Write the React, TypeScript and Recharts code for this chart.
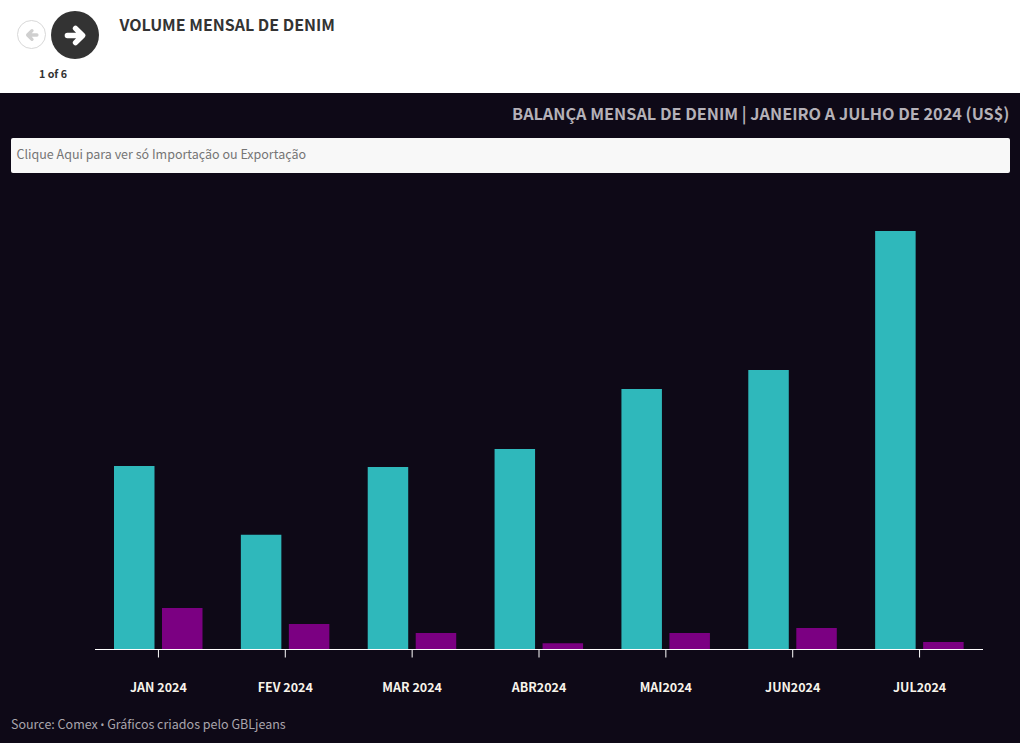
import React from 'react';
import { BarChart, Bar, XAxis, YAxis } from 'recharts';

const FONT = '"Noto Sans CJK SC", "Noto Sans", sans-serif';

const months = ['JAN 2024', 'FEV 2024', 'MAR 2024', 'ABR2024', 'MAI2024', 'JUN2024', 'JUL2024'];
// valores estimados a partir da imagem (US$)
const exportacao = [1835000, 1148000, 1825000, 2005000, 2605000, 2795000, 4185000];
const importacao = [415000, 255000, 165000, 62000, 165000, 215000, 76000];

const data = months.map((month, i) => ({
  month,
  exportacao: exportacao[i],
  importacao: importacao[i],
}));

const ArrowIcon = ({ size, color, flip }: { size: number; color: string; flip?: boolean }) => (
  <svg
    width={size}
    height={size}
    viewBox="0 0 24 24"
    style={{ display: 'block', transform: flip ? 'scaleX(-1)' : undefined }}
  >
    <path
      d="M3.5 12 H19 M12 4.5 L19.5 12 L12 19.5"
      fill="none"
      stroke={color}
      strokeWidth={5.6}
      strokeLinejoin="round"
      strokeLinecap="round"
    />
  </svg>
);

export default function App() {
  return (
    <div
      style={{
        position: 'absolute',
        left: 0,
        top: 0,
        width: 1020,
        height: 743,
        overflow: 'hidden',
        background: '#ffffff',
        fontFamily: FONT,
      }}
    >
      {/* cabecalho */}
      <div
        style={{
          position: 'absolute',
          left: 17,
          top: 20,
          width: 27,
          height: 27,
          borderRadius: '50%',
          border: '1px solid #d8d8d8',
          display: 'flex',
          alignItems: 'center',
          justifyContent: 'center',
        }}
      >
        <ArrowIcon size={14} color="#cfcfcf" flip />
      </div>
      <div
        style={{
          position: 'absolute',
          left: 51,
          top: 11,
          width: 48,
          height: 48,
          borderRadius: '50%',
          background: '#333333',
          display: 'flex',
          alignItems: 'center',
          justifyContent: 'center',
        }}
      >
        <ArrowIcon size={23} color="#ffffff" />
      </div>
      <div
        style={{
          position: 'absolute',
          left: 39,
          top: 66,
          fontSize: 10.7,
          lineHeight: '16px',
          fontWeight: 700,
          color: '#333333',
        }}
      >
        1 of 6
      </div>
      <div
        style={{
          position: 'absolute',
          left: 119.5,
          top: 12,
          fontSize: 16,
          lineHeight: '24px',
          fontWeight: 700,
          color: '#333333',
        }}
      >
        VOLUME MENSAL DE DENIM
      </div>

      {/* painel escuro */}
      <div style={{ position: 'absolute', left: 0, top: 93, width: 1020, height: 650, background: '#0e0917' }} />
      <div
        style={{
          position: 'absolute',
          right: 10.5,
          top: 101,
          fontSize: 16.25,
          lineHeight: '24px',
          fontWeight: 700,
          color: '#b5b1b8',
          whiteSpace: 'nowrap',
        }}
      >
        BALANÇA MENSAL DE DENIM | JANEIRO A JULHO DE 2024 (US$)
      </div>
      <div
        style={{
          position: 'absolute',
          left: 11,
          top: 138,
          width: 993,
          height: 35,
          paddingLeft: 5.5,
          background: '#f8f8f8',
          borderRadius: 2,
          fontSize: 12.5,
          lineHeight: '32px',
          color: '#757575',
        }}
      >
        Clique Aqui para ver só Importação ou Exportação
      </div>

      <div style={{ position: 'absolute', left: 0, top: 0 }}>
        <BarChart
          width={1020}
          height={743}
          data={data}
          margin={{ top: 190, right: 37, bottom: 0, left: 95 }}
          barSize={40.5}
          barGap={7.5}
        >
          <XAxis
            dataKey="month"
            height={93.5}
            interval={0}
            axisLine={{ stroke: '#ffffff', strokeWidth: 1 }}
            tickLine={{ stroke: '#ffffff', strokeWidth: 1 }}
            tickSize={8}
            tickMargin={26}
            tick={{ fill: '#f7f3ea', fontSize: 12.5, fontWeight: 700, fontFamily: FONT }}
          />
          <YAxis hide domain={[0, 4595000]} />
          <Bar dataKey="exportacao" fill="#2fb8bb" isAnimationActive={false} />
          <Bar dataKey="importacao" fill="#7b0082" isAnimationActive={false} />
        </BarChart>
      </div>

      <div
        style={{
          position: 'absolute',
          left: 11,
          top: 715,
          fontSize: 12.5,
          lineHeight: '18px',
          color: '#a9a5ac',
        }}
      >
        Source: Comex <span style={{ fontFamily: '"Noto Sans", sans-serif', fontSize: 10 }}>•</span> Gráficos criados pelo GBLjeans
      </div>
    </div>
  );
}
